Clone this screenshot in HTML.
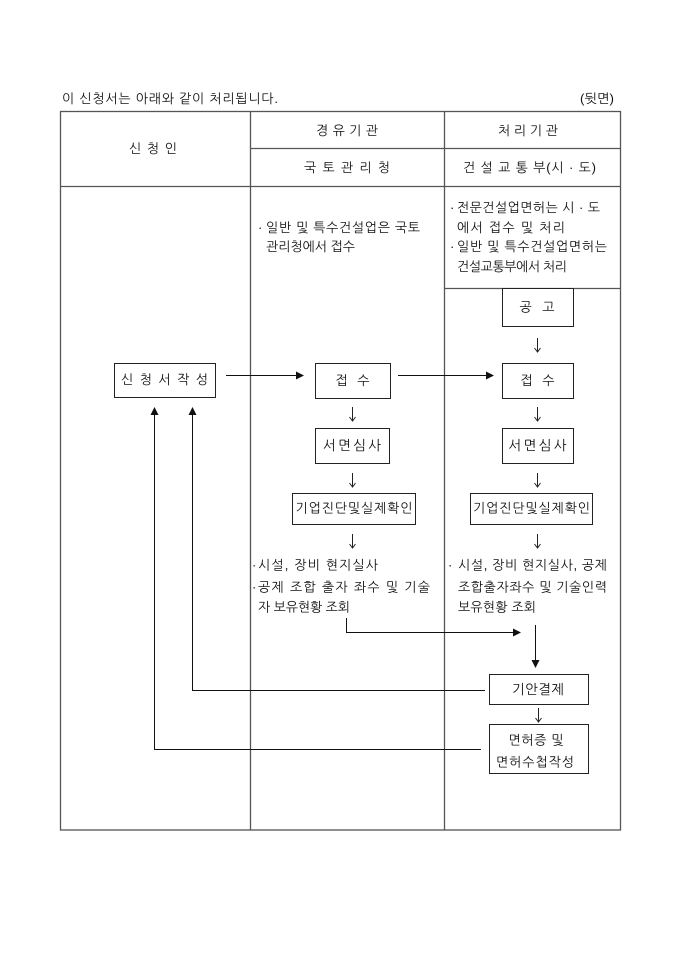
<!DOCTYPE html>
<html>
<head>
<meta charset="utf-8">
<style>
  html, body { margin: 0; padding: 0; background: #fff; }
  svg { display: block; }
  text { font-family: "Liberation Sans", "NanumGothic", "Noto Sans CJK KR", sans-serif; font-size: 13px; fill: #111; }
  .bx { font-size: 13.5px; }
</style>
</head>
<body>
<svg width="680" height="962" viewBox="0 0 680 962" xmlns="http://www.w3.org/2000/svg">
  <rect x="0" y="0" width="680" height="962" fill="#fff"/>

  <!-- Title -->
  <text x="62" y="103" textLength="216" lengthAdjust="spacing">이 신청서는 아래와 같이 처리됩니다.</text>
  <text x="580" y="103" textLength="34" lengthAdjust="spacingAndGlyphs">(뒷면)</text>

  <!-- Table -->
  <g stroke="#555" stroke-width="1.3" fill="none">
    <rect x="60.5" y="111.5" width="560" height="718.5"/>
    <line x1="250.5" y1="111.5" x2="250.5" y2="830"/>
    <line x1="444.5" y1="111.5" x2="444.5" y2="830"/>
    <line x1="250.5" y1="148.5" x2="620.5" y2="148.5"/>
    <line x1="60.5" y1="186.5" x2="620.5" y2="186.5"/>
    <line x1="444.5" y1="288.5" x2="620.5" y2="288.5"/>
  </g>

  <!-- Header texts -->
  <text x="153" y="153" text-anchor="middle" textLength="48" lengthAdjust="spacing">신 청 인</text>
  <text x="347" y="135" text-anchor="middle" textLength="62" lengthAdjust="spacing">경 유 기 관</text>
  <text x="528" y="135" text-anchor="middle" textLength="60" lengthAdjust="spacing">처 리 기 관</text>
  <text x="347" y="172" text-anchor="middle" textLength="86" lengthAdjust="spacing">국 토 관 리 청</text>
  <text x="463" y="172" textLength="133" lengthAdjust="spacing">건 설 교 통 부(시 · 도)</text>

  <!-- Middle column top text -->
  <text x="258" y="232">·</text>
  <text x="266" y="232" textLength="154" lengthAdjust="spacing">일반 및 특수건설업은 국토</text>
  <text x="266" y="251" textLength="89" lengthAdjust="spacing">관리청에서 접수</text>

  <!-- Right column top text -->
  <text x="450" y="212">·</text>
  <text x="457" y="212" textLength="143" lengthAdjust="spacing">전문건설업면허는 시 · 도</text>
  <text x="457" y="232" textLength="108" lengthAdjust="spacing">에서 접수 및 처리</text>
  <text x="450" y="251">·</text>
  <text x="457" y="251" textLength="150" lengthAdjust="spacing">일반 및 특수건설업면허는</text>
  <text x="457" y="271" textLength="110" lengthAdjust="spacing">건설교통부에서 처리</text>

  <!-- Boxes -->
  <g stroke="#222" stroke-width="1" fill="#fff">
    <rect x="502.5" y="288.5" width="71" height="38"/>
    <rect x="114.5" y="363.5" width="101" height="34"/>
    <rect x="315.5" y="363.5" width="75" height="35"/>
    <rect x="502.5" y="363.5" width="71" height="35"/>
    <rect x="315.5" y="428.5" width="74" height="35"/>
    <rect x="502.5" y="428.5" width="71" height="35"/>
    <rect x="292.5" y="493.5" width="123" height="31"/>
    <rect x="470.5" y="493.5" width="122" height="31"/>
    <rect x="489.5" y="674.5" width="99" height="30"/>
    <rect x="489.5" y="724.5" width="99" height="49"/>
  </g>

  <!-- Box texts -->
  <text x="537" y="311.5" text-anchor="middle" textLength="35" lengthAdjust="spacing">공  고</text>
  <text x="164.5" y="384" text-anchor="middle" textLength="87" lengthAdjust="spacing">신 청 서 작 성</text>
  <text x="352.5" y="385" text-anchor="middle" textLength="34" lengthAdjust="spacing">접  수</text>
  <text x="537.5" y="385" text-anchor="middle" textLength="34" lengthAdjust="spacing">접  수</text>
  <text class="bx" x="352" y="450" text-anchor="middle" textLength="58" lengthAdjust="spacing">서면심사</text>
  <text class="bx" x="537.5" y="450" text-anchor="middle" textLength="58" lengthAdjust="spacing">서면심사</text>
  <text x="354" y="512.5" text-anchor="middle" textLength="117" lengthAdjust="spacing">기업진단및실제확인</text>
  <text x="531.5" y="512.5" text-anchor="middle" textLength="117" lengthAdjust="spacing">기업진단및실제확인</text>
  <text class="bx" x="538" y="694" text-anchor="middle" textLength="52" lengthAdjust="spacing">기안결제</text>
  <text x="536" y="744.5" text-anchor="middle" textLength="55" lengthAdjust="spacing">면허증 및</text>
  <text x="535" y="766.5" text-anchor="middle" textLength="78" lengthAdjust="spacing">면허수첩작성</text>

  <!-- Lower middle text -->
  <text x="252" y="569.5">·</text>
  <text x="258" y="569.5" textLength="120" lengthAdjust="spacing">시설, 장비 현지실사</text>
  <text x="252" y="591.5">·</text>
  <text x="258" y="591.5" textLength="172" lengthAdjust="spacing">공제 조합 출자 좌수 및 기술</text>
  <text x="258" y="611.5" textLength="92" lengthAdjust="spacing">자 보유현황 조회</text>

  <!-- Lower right text -->
  <text x="448" y="569.5">·</text>
  <text x="458" y="569.5" textLength="149" lengthAdjust="spacing">시설, 장비 현지실사, 공제</text>
  <text x="458" y="591.5" textLength="149" lengthAdjust="spacing">조합출자좌수 및 기술인력</text>
  <text x="458" y="611.5" textLength="78" lengthAdjust="spacing">보유현황 조회</text>

  <!-- Small down arrows (↓) -->
  <g stroke="#222" stroke-width="1" fill="none">
    <path d="M537.5 338 V352 M534.5 348 L537.5 352 L540.5 348"/>
    <path d="M352.5 407 V421 M349.5 417 L352.5 421 L355.5 417"/>
    <path d="M537.5 407 V421 M534.5 417 L537.5 421 L540.5 417"/>
    <path d="M352.5 473 V487 M349.5 483 L352.5 487 L355.5 483"/>
    <path d="M537.5 473 V487 M534.5 483 L537.5 487 L540.5 483"/>
    <path d="M352.5 534 V548 M349.5 544 L352.5 548 L355.5 544"/>
    <path d="M537.5 534 V548 M534.5 544 L537.5 548 L540.5 544"/>
    <path d="M538.5 708 V722 M535.5 718 L538.5 722 L541.5 718"/>
  </g>

  <!-- Connectors -->
  <g stroke="#111" stroke-width="1" fill="none">
    <line x1="226" y1="375.5" x2="297" y2="375.5"/>
    <line x1="398" y1="375.5" x2="487" y2="375.5"/>
    <polyline points="346.5,618 346.5,632.5 514,632.5"/>
    <line x1="535.5" y1="625" x2="535.5" y2="661"/>
    <polyline points="485,690.5 192.5,690.5 192.5,414"/>
    <polyline points="481,749.5 154.5,749.5 154.5,414"/>
  </g>
  <g fill="#111">
    <polygon points="304,375.5 296,371.5 296,379.5"/>
    <polygon points="494,375.5 486,371.5 486,379.5"/>
    <polygon points="521,632.5 513,628.5 513,636.5"/>
    <polygon points="535.5,668 531.5,660 539.5,660"/>
    <polygon points="192.5,407 188.5,415 196.5,415"/>
    <polygon points="154.5,407 150.5,415 158.5,415"/>
  </g>
</svg>
</body>
</html>
